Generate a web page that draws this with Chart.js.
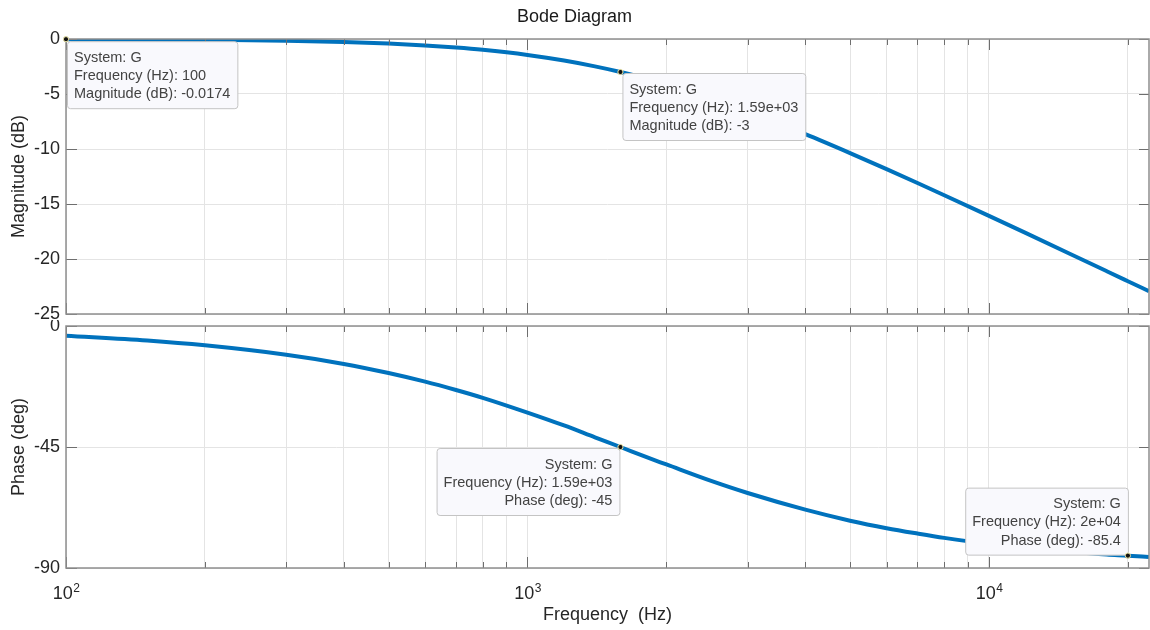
<!DOCTYPE html>
<html><head><meta charset="utf-8">
<script src="https://cdn.jsdelivr.net/npm/chart.js@4.4.1/dist/chart.umd.min.js"></script>
<style>
html,body{margin:0;padding:0;background:#fff;}
#wrap{position:relative;width:1150px;height:630px;overflow:hidden;background:#fff;}
canvas{position:absolute;left:0;}
#c1{top:0}
#c2{top:320px}
</style></head><body>
<div id="wrap"><canvas id="c2" width="1150" height="310"></canvas><canvas id="c1" width="1150" height="320"></canvas></div>
<script>
// ---- data ----
const freqHz   = [100,150,200,300,400,500,600,700,800,1000,1200,1400,1590,1800,2000,2500,3000,4000,5000,6000,7000,8000,10000,12000,15000,18000,20000,22220];
const magDb    = [-0.02,-0.04,-0.07,-0.15,-0.27,-0.41,-0.58,-0.77,-0.98,-1.45,-1.96,-2.49,-3.0,-3.58,-4.12,-5.41,-6.59,-8.65,-10.37,-11.83,-13.09,-14.2,-16.08,-17.63,-19.54,-21.11,-22.02,-22.93];
const phaseDeg = [-3.6,-5.4,-7.2,-10.7,-14.1,-17.5,-20.7,-23.8,-26.7,-32.2,-37.0,-41.4,-45.0,-48.6,-51.5,-57.6,-62.1,-68.3,-72.4,-75.2,-77.2,-78.8,-81.0,-82.5,-84.0,-85.0,-85.4,-85.9];
const xGridTicks  = [100,200,300,400,500,600,700,800,900,1000,2000,3000,4000,5000,6000,7000,8000,9000,10000,20000];
const xLabelTicks = [100,1000,10000];
const xLabelExp   = ['2','3','4'];
const magTicks    = [0,-5,-10,-15,-20,-25];
const phaseTicks  = [0,-45,-90];
const magTipFreq  = [100,1590];
const magTipVal   = [-0.0174,-3];
const magTipText  = [['System: G','Frequency (Hz): 100','Magnitude (dB): -0.0174'],
                     ['System: G','Frequency (Hz): 1.59e+03','Magnitude (dB): -3']];
const phaseTipFreq = [1590,20000];
const phaseTipVal  = [-45,-85.4];
const phaseTipText = [['System: G','Frequency (Hz): 1.59e+03','Phase (deg): -45'],
                      ['System: G','Frequency (Hz): 2e+04','Phase (deg): -85.4']];

const FONT = '"Liberation Sans", Arial, Helvetica, sans-serif';
Chart.defaults.font.family = FONT;
const LINE = 'rgb(0,114,189)';
const GRID = '#e4e4e4';
const FRAME = '#8e8e8e';
const TXT = '#262626';

function decade(v){ const l = Math.log10(v); return Math.abs(l - Math.round(l)) < 1e-9; }

const framePlugin = {
  id: 'frameTips',
  afterDatasetsDraw(chart, args, opts) {
    const {ctx, chartArea: a} = chart;
    const xs = chart.scales.x, ys = chart.scales.y;
    ctx.save();
    // inward tick marks
    ctx.strokeStyle = '#6e6e6e'; ctx.lineWidth = 1;
    ctx.beginPath();
    xGridTicks.forEach(v => {
      const x = Math.round(xs.getPixelForValue(v)) + 0.5;
      const L = decade(v) ? 11 : 6;
      ctx.moveTo(x, a.bottom); ctx.lineTo(x, a.bottom - L);
      ctx.moveTo(x, a.top); ctx.lineTo(x, a.top + L);
    });
    opts.yTicks.forEach(v => {
      const y = Math.round(ys.getPixelForValue(v)) + 0.5;
      ctx.moveTo(a.left, y); ctx.lineTo(a.left + 11, y);
      ctx.moveTo(a.right, y); ctx.lineTo(a.right - 10, y);
    });
    ctx.stroke();
    // frame
    ctx.strokeStyle = FRAME; ctx.lineWidth = 1.5;
    ctx.strokeRect(a.left, a.top, a.right - a.left, a.bottom - a.top);
    // data tips
    ctx.font = '14.5px ' + FONT;
    opts.tips.forEach(t => {
      const mx = xs.getPixelForValue(t.f), my = ys.getPixelForValue(t.v);
      const w = Math.max(...t.lines.map(s => ctx.measureText(s).width)) + 14;
      const h = 67;
      const left = t.side === 'right' ? mx + t.dx : mx + t.dx - w;
      const top = t.below ? my + t.dy : my + t.dy - h;
      ctx.beginPath();
      ctx.roundRect(left + 0.5, top + 0.5, w, h, 3);
      ctx.fillStyle = 'rgb(249,249,253)';
      ctx.fill();
      ctx.strokeStyle = '#c4c4c4'; ctx.lineWidth = 1;
      ctx.stroke();
      ctx.fillStyle = '#434343';
      ctx.textBaseline = 'middle';
      ctx.textAlign = t.side === 'right' ? 'left' : 'right';
      const tx = t.side === 'right' ? left + 7 : left + w - 7;
      t.lines.forEach((s, i) => ctx.fillText(s, tx, top + 16.5 + i * 18.3));
      // marker
      ctx.beginPath();
      ctx.arc(mx, my, 2.6, 0, Math.PI * 2);
      ctx.fillStyle = '#111';
      ctx.fill();
      ctx.strokeStyle = '#e9e3a4'; ctx.lineWidth = 1;
      ctx.stroke();
    });
    ctx.restore();
  }
};

const xLabelPlugin = {
  id: 'xLabels',
  afterDraw(chart) {
    const {ctx} = chart; const xs = chart.scales.x;
    ctx.save();
    ctx.fillStyle = TXT; ctx.textAlign = 'left'; ctx.textBaseline = 'alphabetic';
    xLabelTicks.forEach((v, i) => {
      const x = xs.getPixelForValue(v);
      ctx.font = '18px ' + FONT; const wb = ctx.measureText('10').width;
      ctx.font = '12px ' + FONT; const we = ctx.measureText(xLabelExp[i]).width;
      const s = x - (wb + we) / 2;
      ctx.font = '18px ' + FONT; ctx.fillText('10', s, 279);
      ctx.font = '12px ' + FONT; ctx.fillText(xLabelExp[i], s + wb + 0.5, 271.5);
    });
    ctx.restore();
  }
};

function xScale(h, withTitle) {
  return {
    type: 'logarithmic', min: 100, max: 22220, position: 'bottom',
    afterBuildTicks: s => { s.ticks = xGridTicks.map(v => ({value: v})); },
    afterFit: s => { s.height = h; },
    ticks: {display: false, autoSkip: false},
    grid: {color: GRID, lineWidth: 1, drawTicks: false},
    border: {display: false},
    title: withTitle ? {display: true, text: 'Frequency  (Hz)', color: TXT, font: {size: 18}, padding: {top: 0, bottom: 4.2}} : {display: false}
  };
}
function yScale(min, max, step, title) {
  return {
    min: min, max: max,
    ticks: {stepSize: step, color: TXT, font: {size: 18}, padding: 6},
    afterFit: s => { s.width = 66; s.paddingTop = 0; s.paddingBottom = 0; },
    grid: {color: GRID, lineWidth: 1, drawTicks: false},
    border: {display: false},
    title: {display: true, text: title, color: TXT, font: {size: 18}, padding: {top: 8, bottom: 0}}
  };
}

new Chart(document.getElementById('c1'), {
  type: 'line',
  data: {labels: freqHz, datasets: [{data: freqHz.map((f, i) => ({x: f, y: magDb[i]})), borderColor: LINE, borderWidth: 4, pointRadius: 0, cubicInterpolationMode: 'monotone', fill: false}]},
  options: {
    responsive: false, animation: false, devicePixelRatio: 1,
    layout: {padding: {left: 0, right: 1, top: 0, bottom: 0}},
    plugins: {
      legend: {display: false}, tooltip: {enabled: false},
      title: {display: true, text: 'Bode Diagram', color: '#1a1a1a', font: {size: 18, weight: 'normal'}, padding: {top: 6, bottom: 11.4}},
      frameTips: {yTicks: magTicks, tips: [
        {f: magTipFreq[0], v: magTipVal[0], lines: magTipText[0], side: 'right', below: true, dx: 1, dy: 2},
        {f: magTipFreq[1], v: magTipVal[1], lines: magTipText[1], side: 'right', below: true, dx: 2, dy: 1}
      ]}
    },
    scales: {x: xScale(6, false), y: yScale(-25, 0, 5, 'Magnitude (dB)')}
  },
  plugins: [framePlugin]
});

new Chart(document.getElementById('c2'), {
  type: 'line',
  data: {labels: freqHz, datasets: [{data: freqHz.map((f, i) => ({x: f, y: phaseDeg[i]})), borderColor: LINE, borderWidth: 4, pointRadius: 0, cubicInterpolationMode: 'monotone', fill: false}]},
  options: {
    responsive: false, animation: false, devicePixelRatio: 1,
    layout: {padding: {left: 0, right: 1, top: 6, bottom: 0}},
    plugins: {
      legend: {display: false}, tooltip: {enabled: false}, title: {display: false},
      frameTips: {yTicks: phaseTicks, tips: [
        {f: phaseTipFreq[0], v: phaseTipVal[0], lines: phaseTipText[0], side: 'left', below: true, dx: -1, dy: 1},
        {f: phaseTipFreq[1], v: phaseTipVal[1], lines: phaseTipText[1], side: 'left', below: false, dx: 0, dy: -1}
      ]}
    },
    scales: {x: xScale(62, true), y: yScale(-90, 0, 45, 'Phase (deg)')}
  },
  plugins: [framePlugin, xLabelPlugin]
});
</script>
</body></html>
